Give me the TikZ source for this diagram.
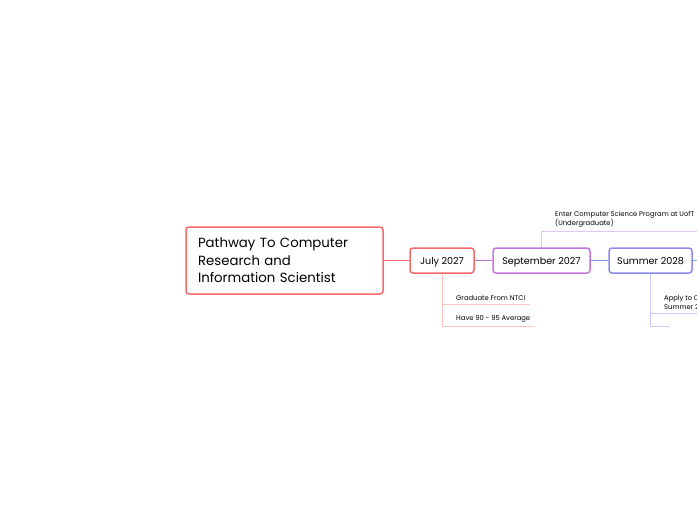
\documentclass[tikz,border=0pt]{standalone}
\usepackage{fontspec}
\setmainfont{Poppins}
\definecolor{rootred}{HTML}{F76868}
\definecolor{septpurple}{HTML}{C674E0}
\definecolor{summerblue}{HTML}{8E88F2}
\definecolor{linkblue}{HTML}{7C9CEC}
\definecolor{nextcyan}{HTML}{55BDEB}
\definecolor{subred}{HTML}{FFC2C2}
\definecolor{subpurple}{HTML}{E2C8F0}
\definecolor{subblue}{HTML}{CBC8F8}
\begin{document}
\begin{tikzpicture}[x=1pt,y=-1pt,
  topic/.style={draw, line width=1.5pt, rounded corners=3pt, fill=white,
    minimum height=25pt, text height=7pt, text depth=0pt,
    font=\fontsize{9.6}{12}\selectfont},
  sub/.style={anchor=south west, inner xsep=5pt, inner ysep=3.5pt,
    align=left, font=\fontsize{6.8}{9}\selectfont}]
\useasboundingbox (0,0) rectangle (697,520);
\node[topic, draw=rootred, minimum width=197pt, minimum height=67pt,
  text width=173pt, text height=, text depth=, inner xsep=12pt, align=left,
  font=\fontsize{13.3}{17.5}\selectfont] (root) at (284.5,260.5)
  {Pathway To Computer\\Research and\\Information Scientist};
\node[topic, draw=rootred, minimum width=64pt] (july) at (442,260.5) {July 2027};
\node[topic, draw=septpurple, minimum width=97pt] (sept) at (541.5,260.5) {September 2027};
\node[topic, draw=summerblue, minimum width=83pt] (summer) at (650.5,260.5) {Summer 2028};
\coordinate (next) at (697,260.5);
% main links
\draw[rootred, line width=1.5pt] (root) -- (july);
\draw[septpurple, line width=1.5pt] (july) -- (sept);
\draw[linkblue, line width=1.5pt] (sept) -- (summer);
\draw[nextcyan, line width=1.5pt] (summer) -- (next);
% July 2027
\node[sub] (grad) at (451,304) {Graduate From NTCI};
\node[sub] (avg) at (451,326) {Have 90 - 95 Average};
\draw[subred] (july.south) |- (grad.south east);
\draw[subred] (july.south) |- (avg.south east);
% September 2027
\node[sub] (enter) at (550,231) {Enter Computer Science Program at UofT\\(Undergraduate)};
\coordinate (enterend) at (697,231);
\draw[subpurple] (sept.north) |- (enterend);
% Summer 2028
\node[sub] (apply) at (659,313) {Apply to C\\Summer 2};
\coordinate (applyend) at (697,313);
\coordinate (blank) at (669,326);
\draw[subblue] (summer.south) |- (applyend);
\draw[subblue] (summer.south) |- (blank);
\end{tikzpicture}
\end{document}
